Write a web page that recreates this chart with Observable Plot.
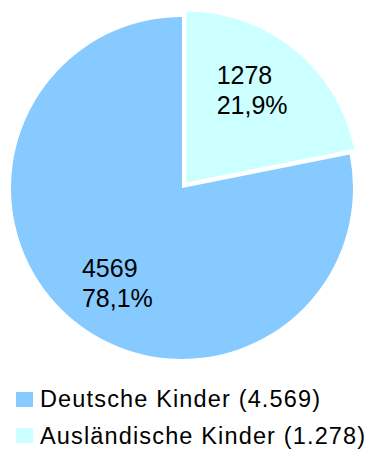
<!DOCTYPE html>
<html>
<head>
<meta charset="utf-8">
<script src="https://cdn.jsdelivr.net/npm/d3@7"></script>
<script src="https://cdn.jsdelivr.net/npm/@observablehq/plot@0.6"></script>
<style>
  body { margin: 0; background: #fff; font-family: "Liberation Sans", Arial, sans-serif; }
  #wrap { position: relative; width: 368px; height: 450px; }
  .legend { position: absolute; left: 0; top: 375px; width: 368px; }
  .row { position: absolute; left: 16px; height: 30px; display: flex; align-items: center; }
  .swatch { width: 17px; height: 15px; margin-right: 7px; flex: none; }
  .lbl { font-size: 23.5px; letter-spacing: 1.15px; color: #000; white-space: nowrap; line-height: 30px; }
</style>
</head>
<body>
<div id="wrap"><div id="chart"></div><div class="legend" id="legend"></div></div>
<script>
// Kinder nach Staatsangehörigkeit
const categories = ["Deutsche Kinder", "Ausländische Kinder"];
const counts = [4569, 1278];
const shares = ["78,1%", "21,9%"];
const legendLabels = ["Deutsche Kinder (4.569)", "Ausländische Kinder (1.278)"];
const colors = ["#87CAFF", "#CCFFFF"];
const exploded = ["Ausländische Kinder"];

const W = 368, H = 375;
const cx = 182, cy = 188, R = 171;
const explodeBy = 7;
const fontSize = 25;

const rows = categories.map((c, i) => ({category: c, count: counts[i], share: shares[i], color: colors[i]}));

// slices run clockwise from 12 o'clock, starting with the smaller group
const pie = d3.pie().sort(null).value(d => d.count);
const arcs = pie([rows[1], rows[0]]);
const arcGen = d3.arc().innerRadius(0).outerRadius(R);

function sliceOrigin(a) {
  const mid = (a.startAngle + a.endAngle) / 2;
  const k = exploded.includes(a.data.category) ? explodeBy : 0;
  return [cx + k * Math.sin(mid), cy - k * Math.cos(mid)];
}

// text width measurement for left-aligned label blocks
const ctx = document.createElement("canvas").getContext("2d");
ctx.font = `${fontSize}px "Liberation Sans", Arial, sans-serif`;

const labelData = arcs.map(a => {
  const [ox, oy] = sliceOrigin(a);
  const ang = (a.startAngle + a.endAngle) / 2 - 0.0785;
  const r = R * 2 / 3;
  const lines = [String(a.data.count), a.data.share];
  const w = d3.max(lines, s => ctx.measureText(s).width);
  return {
    x: ox + r * Math.sin(ang) - w / 2,
    y: oy - r * Math.cos(ang),
    text: lines.join("\n")
  };
});

function slicesMark() {
  const g = d3.create("svg:g");
  g.selectAll("path")
    .data(arcs)
    .join("path")
    .attr("transform", a => `translate(${sliceOrigin(a).join(",")})`)
    .attr("d", arcGen)
    .attr("fill", a => a.data.color);
  return g.node();
}

const chart = Plot.plot({
  width: W,
  height: H,
  margin: 0,
  x: {type: "identity", axis: null},
  y: {type: "identity", axis: null},
  style: {background: "#fff", fontFamily: '"Liberation Sans", Arial, sans-serif'},
  marks: [
    slicesMark,
    Plot.text(labelData, {
      x: "x", y: "y", text: "text",
      textAnchor: "start", lineAnchor: "middle",
      lineHeight: 1.2, fontSize: fontSize, fill: "#000"
    })
  ]
});
document.getElementById("chart").appendChild(chart);

const legend = d3.select("#legend");
rows.forEach((d, i) => {
  const row = legend.append("div").attr("class", "row").style("top", `${9 + i * 36.5}px`);
  row.append("div").attr("class", "swatch").style("background", d.color);
  row.append("div").attr("class", "lbl").text(legendLabels[i]);
});
</script>
</body>
</html>
